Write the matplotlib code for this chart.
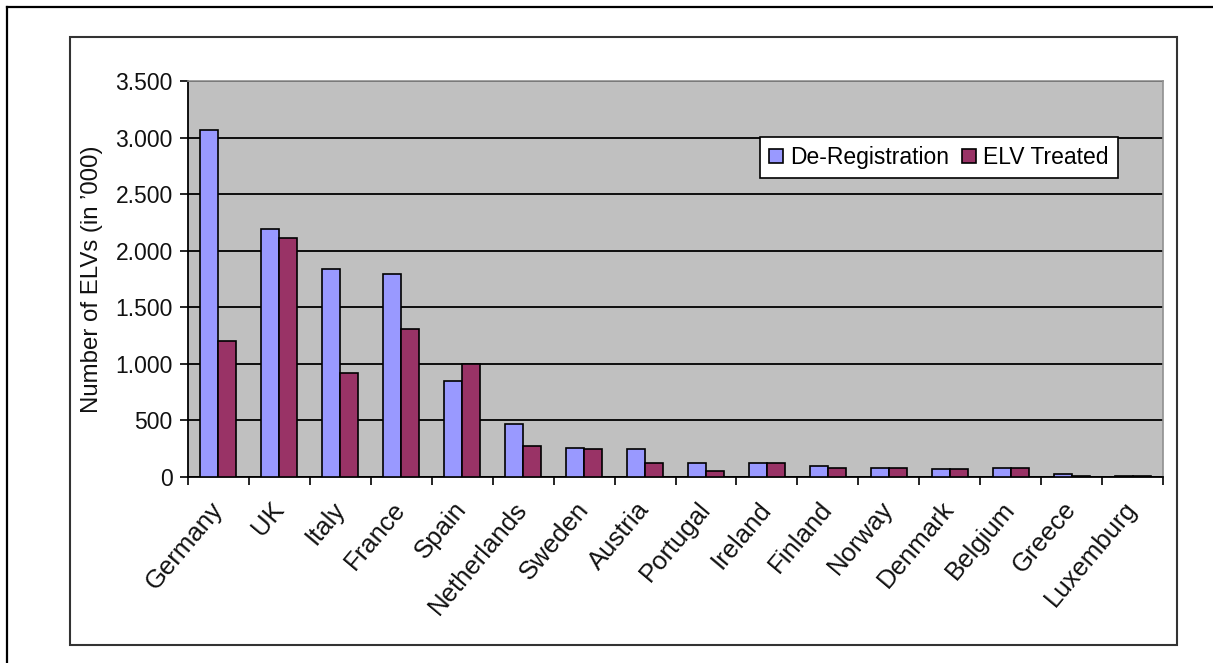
import matplotlib
matplotlib.use("Agg")
import matplotlib.pyplot as plt
import numpy as np
from matplotlib.lines import Line2D
from matplotlib.patches import Rectangle
from matplotlib.ticker import FuncFormatter, MultipleLocator

countries = [
    "Germany", "UK", "Italy", "France", "Spain", "Netherlands", "Sweden",
    "Austria", "Portugal", "Ireland", "Finland", "Norway", "Denmark",
    "Belgium", "Greece", "Luxemburg",
]
# thousands of vehicles
de_registration = [3070, 2190, 1835, 1790, 845, 470, 255, 245, 125, 125, 98, 83, 68, 83, 30, 12]
elv_treated = [1200, 2110, 915, 1305, 1000, 270, 245, 127, 57, 127, 83, 83, 68, 83, 12, 10]

plt.rcParams["font.family"] = ["Liberation Sans", "DejaVu Sans"]

W, H = 1213, 663
fig = plt.figure(figsize=(W / 100, H / 100), dpi=100)

# outer page frame (only left/top edges fall inside the canvas)
fig.add_artist(Line2D([7 / W, 7 / W], [0, 1 - 7 / H], color="black", lw=1.6))
fig.add_artist(Line2D([7 / W, 1], [1 - 7 / H, 1 - 7 / H], color="black", lw=1.6))
# chart frame
fig.add_artist(Rectangle((70 / W, 1 - 645 / H), (1177 - 70) / W, (645 - 37) / H,
                         transform=fig.transFigure, fill=False, ec="#333333", lw=1.5))

ax = fig.add_axes([188 / W, 1 - 477 / H, (1163 - 188) / W, (477 - 81) / H])
ax.set_facecolor("#C0C0C0")

x = np.arange(len(countries))
w = 0.295
ax.bar(x - w / 2, de_registration, w, color="#9999FF", edgecolor="black", lw=1.2,
       label="De-Registration", zorder=3)
ax.bar(x + w / 2, elv_treated, w, color="#993366", edgecolor="black", lw=1.2,
       label="ELV Treated", zorder=3)

ax.set_xlim(-0.5, len(countries) - 0.5)
ax.set_ylim(0, 3500)
ax.yaxis.set_major_locator(MultipleLocator(500))
ax.yaxis.set_major_formatter(FuncFormatter(lambda v, p: f"{int(v):,}".replace(",", ".")))
ax.grid(axis="y", color="black", lw=1.3, zorder=1)

ax.set_xticks(x)
ax.set_xticklabels(countries, rotation=50, ha="right", va="center",
                   rotation_mode="anchor")
ax.set_xticks(np.arange(-0.5, len(countries)), minor=True)
ax.tick_params(axis="x", which="major", length=0, pad=20, labelsize=18.5, labelcolor="#111111")
ax.tick_params(axis="x", which="minor", length=6, width=1.2, direction="out")
ax.tick_params(axis="y", length=6, width=1.2, direction="out", labelsize=16.5,
               labelcolor="#111111", pad=5)

for side in ("top", "right"):
    ax.spines[side].set_color("#909090")
    ax.spines[side].set_linewidth(1.2)
for side in ("left", "bottom"):
    ax.spines[side].set_color("black")
    ax.spines[side].set_linewidth(1.3)

ax.set_ylabel("Number of ELVs (in \u2019000)", fontsize=17.3, color="#111111", labelpad=9)

leg = ax.legend(loc="upper right", bbox_to_anchor=(1118 / W, 1 - 137 / H),
                bbox_transform=fig.transFigure, ncol=2, frameon=True, fancybox=False,
                framealpha=1, fontsize=16.5, handlelength=0.6, handleheight=0.6,
                handletextpad=0.33, columnspacing=0.55, borderpad=0.4, borderaxespad=0)
leg.get_frame().set_edgecolor("black")
leg.get_frame().set_linewidth(1.2)
leg.get_frame().set_facecolor("white")
leg.set_zorder(5)

fig.savefig("out.png", dpi=100)
